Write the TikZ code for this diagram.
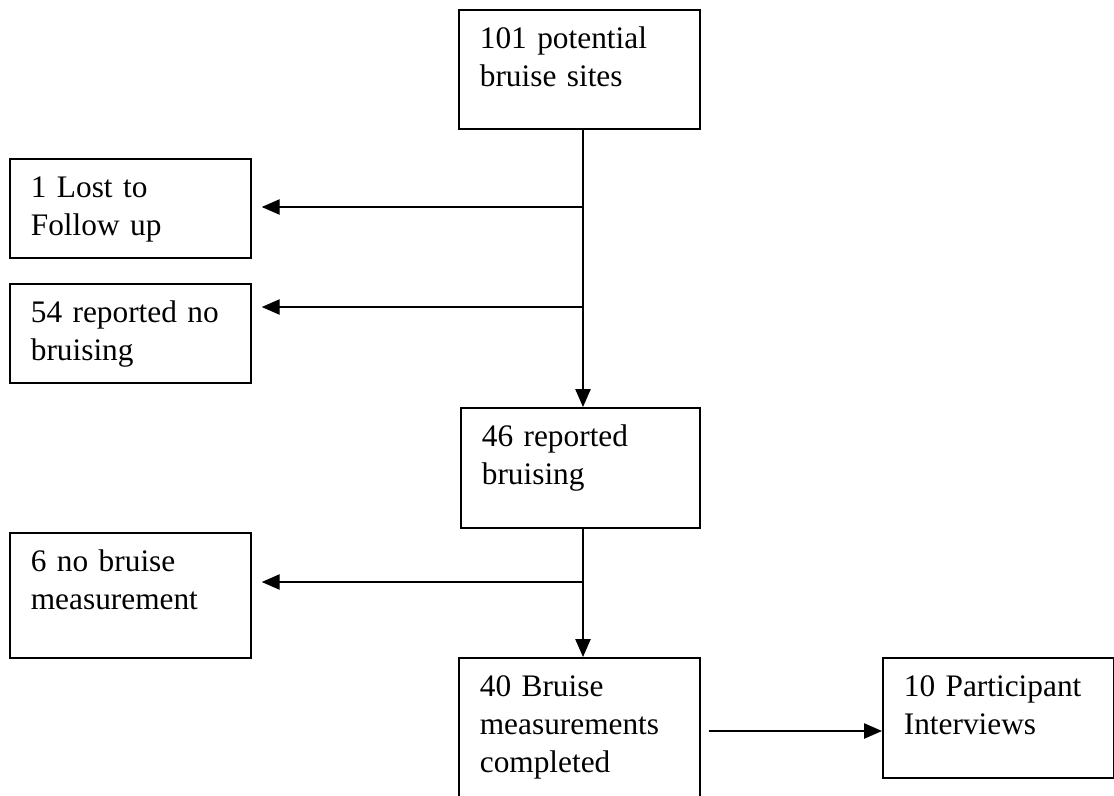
\documentclass[tikz,border=0pt]{standalone}
\usepackage{fontspec}
\setmainfont{Liberation Serif}
\usetikzlibrary{arrows.meta}

\begin{document}
\begin{tikzpicture}[
    x=0.75pt, y=-0.75pt,
    >={Triangle[length=13.5pt,width=11.5pt]},
    box/.style={draw, line width=1.3pt, rectangle, anchor=north west, align=left,
      inner xsep=15.75pt, inner ysep=0pt, text width=149.25pt, text height=29.25pt,
      font=\fontsize{23.5}{28.5}\selectfont},
    flow/.style={->, line width=1.1pt},
    ]
% FLOW OF BRUISE SITES (coordinates in px of the page, y pointing down)
\def\tx{583}   % x of the main trunk
\useasboundingbox (0,0) rectangle (1114,796);

    % BOXES
    \node[box, text depth=60pt] (sites) at (458,9) {101 potential\\bruise sites};
    \node[box, text depth=45pt] (lost) at (9,158) {1 Lost to\\Follow up};
    \node[box, text depth=45pt] (nobruise) at (9,283) {54 reported no\\bruising};
    \node[box, text depth=60.75pt, text width=147.75pt] (bruised) at (460,407) {46 reported\\bruising};
    \node[box, text depth=64.5pt] (nomeas) at (9,532) {6 no bruise\\measurement};
    \node[box, text depth=79.5pt] (measured) at (458,657) {40 Bruise\\measurements\\completed};
    \node[box, text depth=60.75pt, text width=141.75pt] (interv) at (882,657) {10 Participant\\Interviews};

    % BRANCH POINTS
    \coordinate (trunk) at (\tx,0);
    \coordinate (br1) at (\tx,207);   % lost to follow up
    \coordinate (br2) at (\tx,307);   % no bruising
    \coordinate (br3) at (\tx,582);   % no measurement
    \coordinate (br4) at (700,731);   % interviews

    % MAIN TRUNK
    \draw[flow] (sites.south -| trunk) -- (bruised.north -| trunk);
    \draw[flow] (bruised.south -| trunk) -- (measured.north -| trunk);

    % SIDE ARROWS
    \draw[flow, shorten >=7.5pt] (br1) -- (br1 -| lost.east);
    \draw[flow, shorten >=7.5pt] (br2) -- (br2 -| nobruise.east);
    \draw[flow, shorten >=7.5pt] (br3) -- (br3 -| nomeas.east);
    \draw[flow, shorten <=6pt] (measured.east |- br4) -- (br4 -| interv.west);
\end{tikzpicture}
\end{document}
